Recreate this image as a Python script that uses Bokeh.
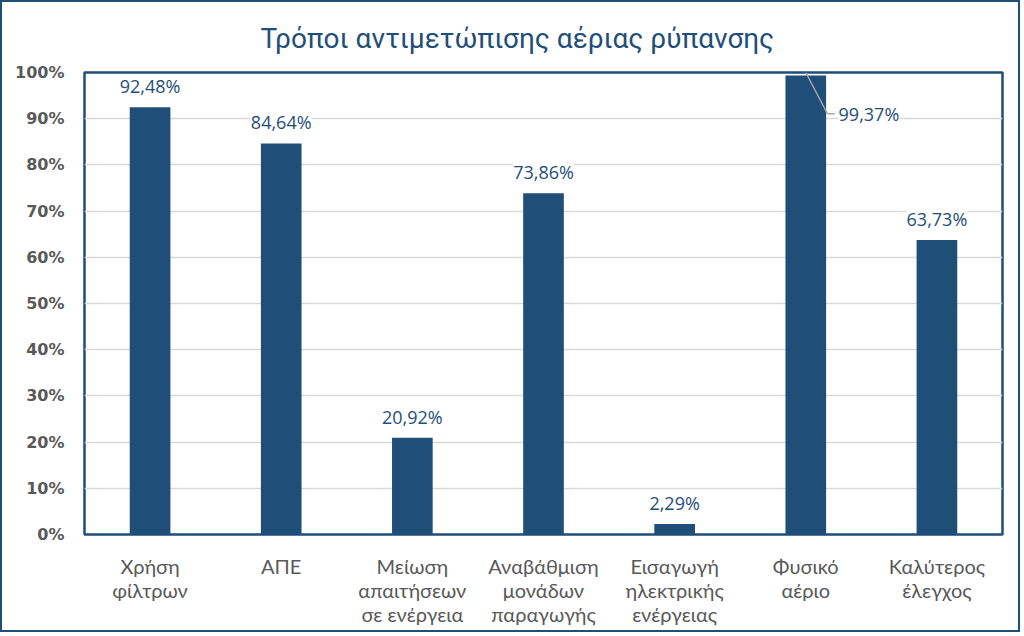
from bokeh.plotting import figure
from bokeh.models import (ColumnDataSource, LabelSet, NumeralTickFormatter, FixedTicker,
                          CategoricalAxis, CustomJSTickFormatter)
from bokeh.core.properties import value
from bokeh.embed import file_html
from bokeh.resources import INLINE

categories = ["Χρήση φίλτρων", "ΑΠΕ", "Μείωση απαιτήσεων σε ενέργεια",
              "Αναβάθμιση μονάδων παραγωγής", "Εισαγωγή ηλεκτρικής ενέργειας",
              "Φυσικό αέριο", "Καλύτερος έλεγχος"]
tick_labels = [["Χρήση", "φίλτρων"], ["ΑΠΕ"], ["Μείωση", "απαιτήσεων", "σε ενέργεια"],
               ["Αναβάθμιση", "μονάδων", "παραγωγής"], ["Εισαγωγή", "ηλεκτρικής", "ενέργειας"],
               ["Φυσικό", "αέριο"], ["Καλύτερος", "έλεγχος"]]
values = [0.9248, 0.8464, 0.2092, 0.7386, 0.0229, 0.9937, 0.6373]
value_labels = ["92,48%", "84,64%", "20,92%", "73,86%", "2,29%", "99,37%", "63,73%"]

BLUE = "#1F4E79"
GRAY = "#595959"

p = figure(x_range=categories, y_range=(0, 1), width=1020, height=632,
           output_backend="svg", toolbar_location=None,
           title="Τρόποι αντιμετώπισης αέριας ρύπανσης",
           min_border_left=82, min_border_right=20, min_border_top=70,
           min_border_bottom=100, x_axis_location=None)
p.styles = {"border": "2px solid " + BLUE}
p.title.text_font = "Roboto"
p.title.text_font_size = "28px"
p.title.text_font_style = "normal"
p.title.text_color = BLUE
p.title.align = "left"
p.title.standoff = 35
p.title.offset = 176

p.outline_line_color = BLUE
p.outline_line_width = 2.5
p.outline_line_alpha = 1

allsrc = ColumnDataSource(dict(cat=categories, val=values, lab=value_labels))
p.vbar(x="cat", top="val", width=0.31, source=allsrc, color=BLUE, line_color=None)

k = categories.index("Φυσικό αέριο")
normal = [i for i in range(len(categories)) if i != k]
src = ColumnDataSource(dict(cat=[categories[i] for i in normal],
                            val=[values[i] for i in normal],
                            lab=[value_labels[i] for i in normal]))
p.add_layout(LabelSet(x="cat", y="val", text="lab", source=src, text_align="center",
                      text_baseline="bottom", y_offset=9, text_font=value("Open Sans"),
                      text_font_size=value("18px"), text_color=BLUE,
                      background_fill_color="white"))

# leader label for the tallest bar
lead_y = values[k] - 0.083
p.segment(x0=[(categories[k], 0.0)], y0=[1.0], x1=[(categories[k], 0.165)],
          y1=[lead_y], line_color="#A6A6A6", line_width=1.5)
p.segment(x0=[(categories[k], 0.165)], y0=[lead_y], x1=[(categories[k], 0.22)],
          y1=[lead_y], line_color="#A6A6A6", line_width=1.5)
lsrc = ColumnDataSource(dict(x=[(categories[k], 0.25)], y=[lead_y], lab=[value_labels[k]]))
p.add_layout(LabelSet(x="x", y="y", text="lab", source=lsrc, text_align="left",
                      text_baseline="middle", text_font=value("Open Sans"),
                      text_font_size=value("18px"), text_color=BLUE,
                      background_fill_color="white"))

# multi-line category labels: one stacked axis per text line
for j in range(3):
    mapping = {c: (lines[j] if j < len(lines) else "")
               for c, lines in zip(categories, tick_labels)}
    ax = CategoricalAxis()
    ax.formatter = CustomJSTickFormatter(args=dict(m=mapping),
                                         code="return (tick in m) ? m[tick] : '';")
    ax.major_label_text_font = "Lato"
    ax.major_label_text_font_size = "20px"
    ax.major_label_text_color = GRAY
    ax.major_label_standoff = 19 if j == 0 else -3
    ax.axis_line_color = None
    ax.major_tick_line_color = None
    ax.major_tick_out = 0
    ax.major_tick_in = 0
    p.add_layout(ax, "below")

# y axis
p.yaxis.ticker = FixedTicker(ticks=[i / 10 for i in range(11)])
p.yaxis.formatter = NumeralTickFormatter(format="0%")
p.yaxis.major_label_text_font = "DejaVu Sans"
p.yaxis.major_label_text_font_style = "bold"
p.yaxis.major_label_text_font_size = "16px"
p.yaxis.major_label_text_color = GRAY
p.yaxis.major_label_standoff = 14
p.yaxis.axis_line_color = None
p.yaxis.major_tick_line_color = None
p.yaxis.minor_tick_line_color = None

p.xgrid.grid_line_color = None
p.ygrid.grid_line_color = "#D9D9D9"
p.ygrid.grid_line_width = 1.5

open("out.html", "w").write(file_html(p, INLINE))
